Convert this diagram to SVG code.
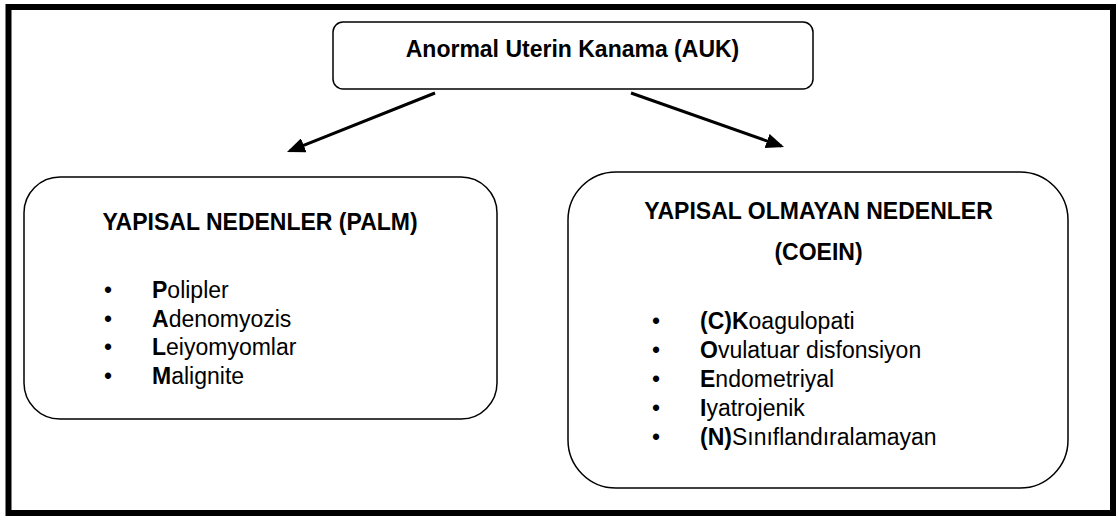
<svg xmlns="http://www.w3.org/2000/svg" width="1119" height="520" viewBox="0 0 1119 520">
<style>
.box{fill:#fff;stroke:#000;stroke-width:1.5}
.t{font-family:"Liberation Sans",Arial,sans-serif;fill:#000}
.b{font-weight:bold}
.h{font-size:23px;font-weight:bold}
.li{font-size:23px}
.conn{stroke:#000;stroke-width:3;fill:none}
</style>
<defs>
<marker id="ah" markerWidth="6" markerHeight="5" refX="5" refY="2.5" orient="auto" markerUnits="strokeWidth">
<path d="M0,0 L6,2.5 L0,5 Z" fill="#000"/>
</marker>
</defs>
<rect x="0" y="0" width="1119" height="520" fill="#fff"/>
<rect x="8.5" y="7" width="1104.5" height="506" fill="none" stroke="#000" stroke-width="6"/>
<g id="connectors">
<line class="conn" x1="435" y1="93" x2="289.8" y2="150.9" marker-end="url(#ah)"/>
<line class="conn" x1="631" y1="93" x2="781.2" y2="146" marker-end="url(#ah)"/>
</g>
<g id="node-auk">
<rect class="box" x="333" y="22" width="480" height="67" rx="10"/>
<text class="t h" x="572.5" y="57" text-anchor="middle">Anormal Uterin Kanama (AUK)</text>
</g>
<g id="node-palm">
<rect class="box" x="24" y="177" width="473" height="242" rx="36"/>
<text class="t h" x="260" y="230" text-anchor="middle">YAPISAL NEDENLER (PALM)</text>
<g class="t li">
<text x="104" y="298">•</text><text x="152" y="298"><tspan class="b">P</tspan>olipler</text>
<text x="104" y="327">•</text><text x="152" y="327"><tspan class="b">A</tspan>denomyozis</text>
<text x="104" y="355">•</text><text x="152" y="355"><tspan class="b">L</tspan>eiyomyomlar</text>
<text x="104" y="384">•</text><text x="152" y="384"><tspan class="b">M</tspan>alignite</text>
</g>
</g>
<g id="node-coein">
<rect class="box" x="568" y="172" width="500" height="316" rx="48"/>
<text class="t h" x="818.5" y="219" text-anchor="middle">YAPISAL OLMAYAN NEDENLER</text>
<text class="t h" x="818.5" y="260" text-anchor="middle">(COEIN)</text>
<g class="t li">
<text x="652" y="329">•</text><text x="700" y="329"><tspan class="b">(C)K</tspan>oagulopati</text>
<text x="652" y="358">•</text><text x="700" y="358"><tspan class="b">O</tspan>vulatuar disfonsiyon</text>
<text x="652" y="387">•</text><text x="700" y="387"><tspan class="b">E</tspan>ndometriyal</text>
<text x="652" y="416">•</text><text x="700" y="416"><tspan class="b">I</tspan>yatrojenik</text>
<text x="652" y="445">•</text><text x="700" y="445"><tspan class="b">(N)</tspan>Sınıflandıralamayan</text>
</g>
</g>
</svg>
